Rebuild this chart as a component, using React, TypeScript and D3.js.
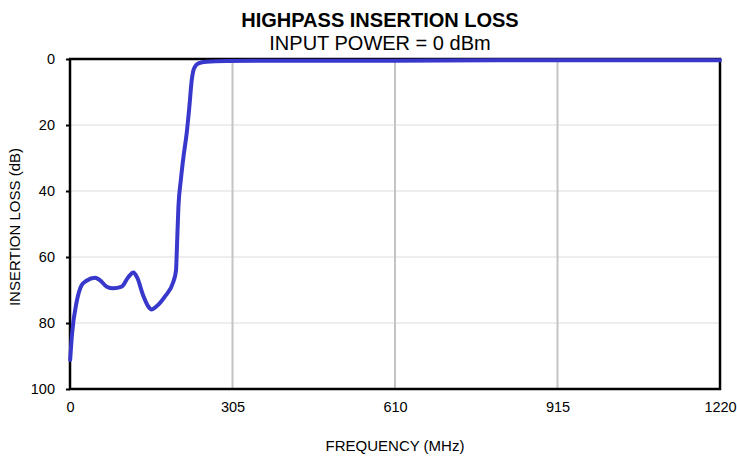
import { useEffect, useRef } from "react";
import * as d3 from "d3";

// frequency (MHz) vs insertion loss (dB)
const freqMHz = [
  0.3, 4, 12, 22, 31, 47, 56, 69, 81, 97, 109, 119, 126, 137, 147, 153, 162,
  178, 194, 199, 200.5, 203.5, 208, 213, 219, 224, 228.5, 233, 241, 256, 294,
  400, 600, 800, 1000, 1220,
];
const lossDb = [
  91.2, 83, 74, 68.5, 67.2, 66.3, 67, 69, 69.5, 69, 66.2, 64.7, 66.2, 71.5, 75,
  75.9, 75, 72, 67.5, 64, 58, 44.8, 36.7, 29.6, 22.5, 14.5, 6.4, 2.8, 1.3, 0.8,
  0.6, 0.5, 0.5, 0.4, 0.4, 0.4,
];
const xTicks = [0, 305, 610, 915, 1220];
const yTicks = [0, 20, 40, 60, 80, 100];

export default function App() {
  const svgRef = useRef<SVGSVGElement | null>(null);
  const width = 737;
  const height = 456;

  useEffect(() => {
    if (!svgRef.current) return;
    const margin = { top: 59, right: 17, bottom: 67, left: 70 };
    const innerW = width - margin.left - margin.right;
    const innerH = height - margin.top - margin.bottom;
    const font = "Liberation Sans, Arial, sans-serif";

    const svg = d3.select(svgRef.current);
    svg.selectAll("*").remove();

    const x = d3.scaleLinear().domain([0, 1220]).range([0, innerW]);
    const y = d3.scaleLinear().domain([0, 100]).range([0, innerH]);

    const g = svg
      .append("g")
      .attr("transform", `translate(${margin.left},${margin.top})`);

    // horizontal grid
    g.selectAll("line.hgrid")
      .data(yTicks.slice(1, -1))
      .join("line")
      .attr("x1", 0)
      .attr("x2", innerW)
      .attr("y1", (d) => y(d))
      .attr("y2", (d) => y(d))
      .attr("stroke", "#dcdcdc")
      .attr("stroke-width", 1);

    // vertical grid
    g.selectAll("line.vgrid")
      .data(xTicks.slice(1, -1))
      .join("line")
      .attr("x1", (d) => x(d))
      .attr("x2", (d) => x(d))
      .attr("y1", 0)
      .attr("y2", innerH)
      .attr("stroke", "#c4c4c4")
      .attr("stroke-width", 2);

    // axes
    const yAxis = g
      .append("g")
      .call(d3.axisLeft(y).tickValues(yTicks).tickFormat(d3.format("d")).tickSize(4).tickSizeOuter(0));
    const xAxis = g
      .append("g")
      .attr("transform", `translate(0,${innerH})`)
      .call(d3.axisBottom(x).tickValues(xTicks).tickFormat(d3.format("d")).tickSize(0).tickSizeOuter(0));

    [yAxis, xAxis].forEach((a) => {
      a.select(".domain").remove();
      a.selectAll("line").attr("stroke", "#000").attr("stroke-width", 2);
      a.selectAll("text")
        .attr("font-family", font)
        .attr("font-size", 14.5)
        .attr("fill", "#000");
    });
    yAxis.selectAll("text").attr("x", -15);
    xAxis.selectAll("text").attr("y", 13);

    // frame
    g.append("rect")
      .attr("width", innerW)
      .attr("height", innerH)
      .attr("fill", "none")
      .attr("stroke", "#000")
      .attr("stroke-width", 2.5);

    // curve
    const pts = freqMHz.map((f, i) => [f, lossDb[i]] as [number, number]);
    const line = d3
      .line<[number, number]>()
      .x((d) => x(d[0]))
      .y((d) => y(d[1]))
      .curve(d3.curveMonotoneX);

    g.append("path")
      .datum(pts)
      .attr("d", line)
      .attr("fill", "none")
      .attr("stroke", "#3838cc")
      .attr("stroke-width", 4)
      .attr("stroke-linejoin", "round")
      .attr("stroke-linecap", "round");

    // titles
    svg.append("text")
      .attr("x", 380)
      .attr("y", 27)
      .attr("text-anchor", "middle")
      .attr("font-family", font)
      .attr("font-weight", "bold")
      .attr("font-size", 20)
      .text("HIGHPASS INSERTION LOSS");

    svg.append("text")
      .attr("x", 380)
      .attr("y", 50)
      .attr("text-anchor", "middle")
      .attr("font-family", font)
      .attr("font-size", 20)
      .text("INPUT POWER = 0 dBm");

    svg.append("text")
      .attr("x", margin.left + innerW / 2)
      .attr("y", 451)
      .attr("text-anchor", "middle")
      .attr("font-family", font)
      .attr("font-size", 15)
      .text("FREQUENCY (MHz)");

    svg.append("text")
      .attr("transform", `translate(20,227) rotate(-90)`)
      .attr("text-anchor", "middle")
      .attr("font-family", font)
      .attr("font-size", 15)
      .text("INSERTION LOSS (dB)");
  }, []);

  return (
    <svg
      ref={svgRef}
      width={width}
      height={height}
      style={{ position: "absolute", left: 0, top: 0, background: "#fff" }}
    />
  );
}
